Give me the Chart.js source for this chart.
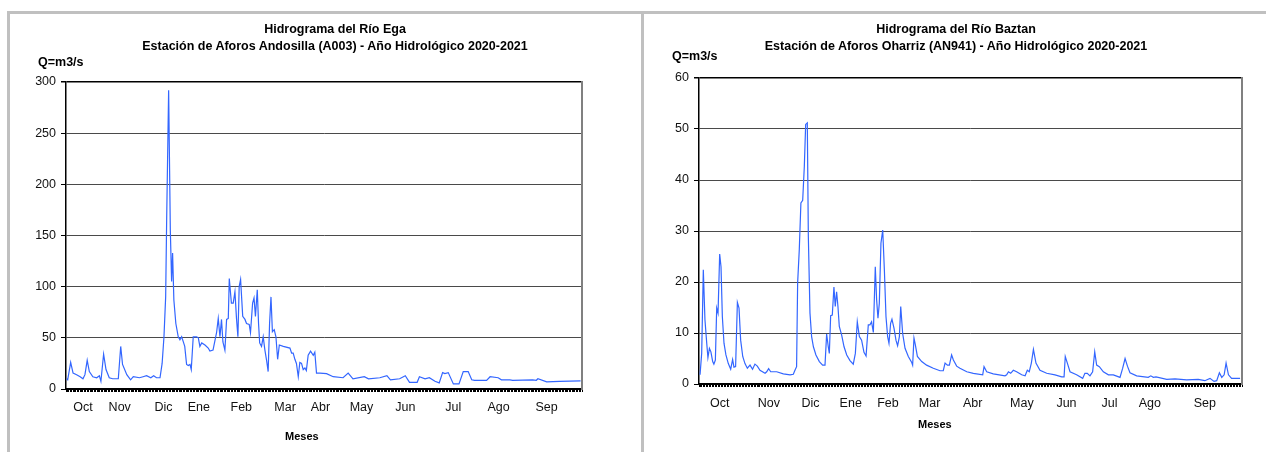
<!DOCTYPE html>
<html>
<head>
<meta charset="utf-8">
<script src="https://cdn.jsdelivr.net/npm/chart.js@4"></script>
<style>
  body { margin: 0; background: #fff; width: 1266px; height: 452px; overflow: hidden; position: relative; font-family: "Liberation Sans", Arial, sans-serif; }
  .frame { position: absolute; background: #c0c0c0; }
  canvas { position: absolute; top: 13px; }
  .txt { position: absolute; font-weight: bold; color: #000; white-space: nowrap; }
  .title { width: 600px; text-align: center; font-size: 12.5px; line-height: 17px; }
</style>
</head>
<body>
<div class="frame" style="left:7px; top:11px; width:1259px; height:3px;"></div>
<div class="frame" style="left:7px; top:11px; width:3px; height:441px;"></div>
<div class="frame" style="left:641px; top:11px; width:3px; height:441px;"></div>

<canvas id="egaChart" width="633" height="439" style="left:8px;"></canvas>
<canvas id="baztanChart" width="622" height="439" style="left:644px;"></canvas>

<div class="txt title" style="left:35px; top:21px;">Hidrograma del Río Ega<br>Estación de Aforos Andosilla (A003) - Año Hidrológico 2020-2021</div>
<div class="txt title" style="left:656px; top:21px;">Hidrograma del Río Baztan<br>Estación de Aforos Oharriz (AN941) - Año Hidrológico 2020-2021</div>
<div class="txt" style="left:38px; top:55px; font-size:12.5px;">Q=m3/s</div>
<div class="txt" style="left:672px; top:49px; font-size:12.5px;">Q=m3/s</div>
<div class="txt" style="left:285px; top:430px; font-size:11px;">Meses</div>
<div class="txt" style="left:918px; top:418px; font-size:11px;">Meses</div>

<script>
// month labels and the day of the hydrological year (from 1 Oct) where each one sits
const meses = ['Oct', 'Nov', 'Dic', 'Ene', 'Feb', 'Mar', 'Abr', 'May', 'Jun', 'Jul', 'Ago', 'Sep'];
const egaMesDia = [12, 38, 69, 94, 124, 155, 180, 209, 240, 274, 306, 340];
const baztanMesDia = [14, 47, 75, 102, 127, 155, 184, 217, 247, 276, 303, 340];

// Rio Ega - Andosilla (A003), caudal m3/s
const egaDias = [0.5, 1.2, 3.3, 5, 7.5, 10, 12, 13.4, 15, 16.5, 19, 21.7, 23.6, 24.7, 26.6, 28.3, 30.6, 33, 37, 38.7,
	40, 43, 45.7, 47.6, 52, 54.5, 57, 60, 62, 64, 66.5, 68, 69.3, 70.5, 71.2, 72.6, 73.8, 74.7, 75.4, 76.3,
	77.7, 79.4, 80.6, 81.8, 83, 84, 85.3, 86.5, 87.7, 88.6, 90, 92.4, 93.6, 94.7, 96, 98.3, 100.6, 101.8, 104, 106.5,
	107.7, 108.9, 110, 111, 112.4, 113.6, 114.8, 115.5, 117, 118.3, 119.5, 120.6, 121.6, 122.5, 123.5, 125, 126.6, 127.7, 129.6, 130.5,
	132, 133, 134, 135.3, 136.2, 137, 138.3, 139.5, 140.7, 142, 143, 144, 145, 146, 147.3, 148.5, 149.7, 150.9, 153.7, 158.4,
	159.6, 160.7, 161.9, 163, 164.3, 165.4, 166.6, 167.8, 169, 170, 171.3, 173, 174.9, 176, 177.2, 179.6, 184.3, 189, 196, 199.6,
	203, 211, 214, 222, 227, 229.5, 236, 240, 243, 248.4, 250, 254, 257, 261, 264, 266.4, 268, 270.4, 274, 278,
	281, 284.5, 287, 289, 297.5, 300, 305.7, 308, 314, 316, 330, 332.7, 333.8, 340, 349, 364];
const egaCaudal = [10, 9, 26, 15.6, 14, 12, 10, 14, 28, 17, 12, 11, 13, 7.5, 34, 19, 11, 10, 10, 41.6,
	24, 14, 9, 12, 11, 12, 13, 11, 13, 11, 11, 25, 51, 90, 165, 292, 155, 105, 133, 87,
	64, 51, 48, 51, 46, 41.6, 24, 23, 24, 19, 51, 51, 50, 41.6, 45, 43, 40, 37, 38, 55,
	69, 51, 68, 46, 38, 68, 69, 108, 84, 84, 95, 69, 51, 100, 107, 71, 68, 64, 63, 55,
	84, 89, 71, 97, 64, 45, 41.6, 51, 38, 27, 17, 64, 90, 56, 58, 51, 29, 43, 41.6, 40,
	35, 35, 29, 25, 12, 26, 25, 19, 20.5, 18, 33, 37, 33, 36, 15.6, 15.6, 15, 12, 11, 15.6,
	10, 12, 10, 11, 13, 9, 10, 13, 6.5, 6.5, 12, 10, 11, 7.5, 6, 16, 15, 16, 5, 5,
	17, 17, 9, 8.5, 8.5, 12, 11, 9, 9, 8.5, 9, 8.5, 10, 7, 7.5, 8];

// Rio Baztan - Oharriz (AN941), caudal m3/s
const baztanDias = [0.7, 1.8, 2.9, 4, 5.2, 6, 7, 8, 9.2, 10, 11, 11.9, 12.8, 13.9, 14.8, 15.7, 16.8, 18.1, 19.7, 21.3,
	22.6, 23.5, 24.6, 25.8, 26.9, 28, 29.4, 30.9, 32.5, 34.3, 36, 37.6, 39.2, 41, 44.4, 45.5, 46.8, 48.2, 52.2, 56.7,
	61.2, 63.4, 64.5, 65.6, 66.3, 67.4, 68.5, 69.7, 70.8, 71.7, 72.8, 73.5, 74.6, 75.7, 76.9, 78.6, 80.9, 83.1, 84.7, 85.8,
	86.9, 87.6, 88.5, 89.6, 90.7, 91.6, 92.5, 93.4, 94.3, 95.9, 97.5, 99.3, 101.5, 103.7, 105.1, 106.4, 107.8, 109.3, 110.9, 112.3,
	113.8, 114.9, 116, 117.2, 118.5, 119.4, 120.3, 121.2, 122.3, 123.5, 124.6, 125.7, 126.8, 127.7, 128.8, 129.7, 131.1, 132.4, 133.5, 134.7,
	135.6, 136.9, 138.5, 140.7, 143, 143.6, 144.5, 145.4, 146.8, 149.7, 153, 157.5, 162, 164.2, 165.4, 167, 168.3, 169.8, 171, 173.2,
	175.4, 180, 184.4, 190.7, 191.6, 193.4, 197.8, 205.7, 206.8, 208, 209.5, 211.3, 213.5, 216.9, 219.2, 220.7, 222, 223.4, 224.8, 226.5,
	229.2, 233.7, 239.3, 243.8, 245.4, 246.2, 247.6, 249.4, 253.8, 257.9, 259.4, 261, 262.8, 264.6, 266, 267.3, 269.1, 271.8, 275.2, 278.5,
	280.3, 283, 284.8, 286.4, 288, 289.7, 294.2, 302, 303.7, 305.4, 307.2, 314.4, 320, 327.8, 335.6, 340, 343.5, 346.2, 348, 349.8,
	351.4, 353, 354.3, 355.9, 358, 363.7];
const baztanCaudal = [1.8, 6, 22.4, 12.6, 8, 5.2, 7, 6.3, 4.4, 3.9, 4.7, 14.9, 13.9, 25.5, 23, 13.2, 8, 5.7, 4, 2.9,
	4.8, 3.3, 3.4, 16, 14.9, 8.6, 5.4, 4, 3.1, 3.7, 2.9, 3.9, 3.5, 2.7, 2.1, 2.4, 3, 2.4, 2.4, 2,
	1.8, 1.9, 2.7, 3.4, 19.8, 26.3, 35.5, 36, 42.7, 50.9, 51.2, 28.9, 13.9, 9.3, 7.3, 5.7, 4.4, 3.7, 3.7, 9.8,
	7.3, 6, 13.4, 13.5, 19, 15.2, 18.1, 15.2, 11.3, 9.6, 7.3, 5.7, 4.6, 3.9, 6, 12.2, 9.3, 8.6, 6.2, 5.5,
	11.6, 11.6, 12.2, 10.1, 23, 16.5, 12.9, 15.8, 27.6, 30.2, 22.4, 13.2, 9.3, 8, 11.9, 12.7, 10.9, 8.6, 7.5, 9.3,
	15.2, 9.9, 7, 5.4, 4.2, 3.7, 9, 7.7, 5.4, 4.4, 3.7, 3.1, 2.6, 2.6, 4.1, 3.7, 3.7, 5.7, 4.7, 3.5,
	3.1, 2.4, 2.1, 1.8, 3.4, 2.4, 2, 1.6, 1.8, 2.4, 2.1, 2.7, 2.4, 1.8, 1.6, 2.7, 2.4, 4.1, 6.8, 4.1,
	2.7, 2.1, 1.8, 1.4, 1.4, 5.4, 4.1, 2.4, 1.8, 1.1, 2.1, 2.1, 1.6, 2.4, 6.3, 3.7, 3.4, 2.4, 1.8, 1.8,
	1.6, 1.3, 3.1, 5, 3.5, 2.2, 1.6, 1.3, 1.6, 1.3, 1.4, 0.9, 1, 0.8, 0.9, 0.65, 1.1, 0.5, 0.65, 2.2,
	1.3, 1.8, 4.1, 1.8, 1.1, 1.1];

const fontFamily = '"Liberation Sans", Arial, sans-serif';

function hidrograma(canvasId, dias, caudal, mesDia, yMax, yStep, pad, yWidth, xPad) {
	const points = dias.map((d, i) => ({ x: d, y: caudal[i] }));
	return new Chart(document.getElementById(canvasId), {
		type: 'line',
		data: {
			datasets: [{
				data: points,
				borderColor: '#3366ff',
				borderWidth: 1.2,
				pointRadius: 0,
				tension: 0,
				fill: false
			}]
		},
		options: {
			responsive: false,
			animation: false,
			layout: { padding: pad },
			plugins: {
				legend: { display: false },
				tooltip: { enabled: false }
			},
			scales: {
				x: {
					type: 'linear',
					min: 0,
					max: 365,
					afterBuildTicks: (axis) => {
						const t = [];
						for (let d = 0; d <= 365; d++) t.push({ value: d });
						axis.ticks = t;
					},
					afterFit: (axis) => { axis.height = 40; },
					ticks: {
						autoSkip: false,
						maxRotation: 0,
						minRotation: 0,
						padding: xPad,
						color: '#111',
						font: { family: fontFamily, size: 12.5 },
						callback: (v) => {
							const k = mesDia.indexOf(v);
							return k >= 0 ? meses[k] : '';
						}
					},
					grid: {
						drawOnChartArea: false,
						tickLength: 3,
						tickColor: '#000',
						tickWidth: 1
					},
					border: { color: '#000', width: 2 }
				},
				y: {
					min: 0,
					max: yMax,
					afterFit: (axis) => { axis.width = yWidth; },
					ticks: {
						stepSize: yStep,
						padding: 5,
						color: '#111',
						font: { family: fontFamily, size: 12.5 }
					},
					grid: {
						color: (ctx) => ctx.tick && ctx.tick.value === yMax ? '#000' : '#4a4a4a',
						lineWidth: (ctx) => ctx.tick && ctx.tick.value === yMax ? 1.5 : 1,
						tickLength: 5,
						tickColor: '#000'
					},
					border: { color: '#000', width: 1.5 }
				},
				y2: {
					position: 'right',
					min: 0,
					max: yMax,
					afterFit: (axis) => { axis.width = 0; },
					ticks: { display: false },
					grid: { drawOnChartArea: false, drawTicks: false },
					border: { color: '#808080', width: 2 }
				}
			}
		}
	});
}

hidrograma('egaChart', egaDias, egaCaudal, egaMesDia, 300, 50,
	{ left: 18, top: 69, right: 59, bottom: 23 }, 40, 8);
hidrograma('baztanChart', baztanDias, baztanCaudal, baztanMesDia, 60, 10,
	{ left: 15, top: 65, right: 24, bottom: 28 }, 40, 9);
</script>
</body>
</html>
